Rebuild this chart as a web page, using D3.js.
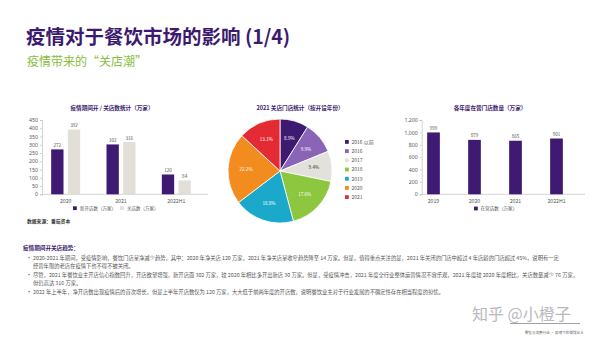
<!DOCTYPE html>
<html>
<head>
<meta charset="utf-8">
<script src="https://cdn.jsdelivr.net/npm/d3@7"></script>
<style>
  body { margin: 0; background: #fff; }
  svg { display: block; font-family: "Noto Sans CJK SC", "Noto Sans", sans-serif; }
</style>
</head>
<body>
<div id="chart"></div>
<script>
// chart 1: opened / closed stores
var years1 = ["2020", "2021", "2022H1"];
var openedCount = [272, 302, 120];
var closedCount = [392, 316, 84];
var ticks1 = [0, 50, 100, 150, 200, 250, 300, 350, 400, 450];

// chart 2: 2021 closed stores by opening year
var pieLabels = ["2016 以前", "2016", "2017", "2018", "2019", "2020", "2021"];
var pieValues = [8.9, 9.9, 9.4, 17.6, 18.8, 22.2, 13.1];
var pieColors = ["#3f1a72", "#8a64b6", "#e3e1dc", "#8dc63f", "#1aa9cb", "#f28c1e", "#e42a32"];

// chart 3: stores in operation
var years3 = ["2019", "2020", "2021", "2022H1"];
var operating = [999, 879, 865, 901];
var ticks3 = [0, 200, 400, 600, 800, 1000, 1200];

var bullets = [
  ["2020-2021 年期间，受疫情影响，餐饮门店呈净减少趋势，其中：2020 年净关店 120 万家，2021 年净关店呈收窄趋势降至 14 万家。但是，值得重点关注的是，2021 年关闭的门店中超过 4 年店龄的门店超过 45%，说明有一定",
   "经营年限的老店在疫情下也不得不被关闭。"],
  ["尽管，2021 年餐饮业主开店信心指数回升，开店欲望增强，新开店面 302 万家，较 2020 年相比多开出新店 30 万家。但是，受疫情冲击，2021 年度全行业整体运营情况不容乐观，2021 年度较 2020 年度相比，关店数量减少 76 万家，",
   "但仍高达 316 万家。"],
  ["2022 年上半年，净开店数出现疫情后的首次增长，但是上半年开店数仅为 120 万家，大大低于前两年度的开店数，说明餐饮业主对于行业发展的不确定性存在相当程度的担忧。"]
];

var purple = "#3f1a72", grey = "#e2dfd8", axisCol = "#b5b5b5", txt = "#555";

var svg = d3.select("#chart").append("svg").attr("width", 600).attr("height", 340);

// headings
svg.append("text").attr("x", 26).attr("y", 44)
  .attr("font-size", 19.5).attr("font-weight", 700).attr("fill", "#3c1a6e")
  .text("疫情对于餐饮市场的影响 (1/4)");
svg.append("text").attr("x", 27).attr("y", 66)
  .attr("font-size", 12).attr("fill", "#86bd3c")
  .text("疫情带来的“关店潮”");

function chartTitle(x, y, s) {
  svg.append("text").attr("x", x).attr("y", y).attr("text-anchor", "middle")
    .attr("font-size", 5.6).attr("font-weight", 700).attr("fill", "#3c1a6e").text(s);
}

function styleAxis(g) {
  g.selectAll("path, line").attr("stroke", axisCol).attr("stroke-width", 0.6);
  g.selectAll("text").attr("fill", txt).attr("font-size", 5.2).attr("font-family", "Noto Sans, sans-serif");
}

// ---------- chart 1 ----------
chartTitle(112, 110, "疫情期间开 / 关店数统计（万家）");
var x1 = d3.scaleBand().domain(years1).range([38, 204]);
var y1 = d3.scaleLinear().domain([0, 450]).range([194.3, 120]);
var inner = d3.scaleBand().domain(["o", "c"]).range([0, 33]).paddingInner(0.26).paddingOuter(0.12);

svg.append("g").attr("transform", "translate(42,0)")
  .call(d3.axisLeft(y1).tickValues(ticks1).tickSize(2).tickPadding(2)).call(styleAxis);
svg.append("line").attr("x1", 42).attr("x2", 208).attr("y1", y1(0)).attr("y2", y1(0))
  .attr("stroke", axisCol).attr("stroke-width", 0.6);

var g1 = svg.append("g");
years1.forEach(function(yr, i) {
  var cx = x1(yr) + x1.bandwidth() / 2 - 16.5;
  [["o", openedCount[i], purple], ["c", closedCount[i], grey]].forEach(function(b) {
    g1.append("rect").attr("x", cx + inner(b[0])).attr("width", inner.bandwidth())
      .attr("y", y1(b[1])).attr("height", y1(0) - y1(b[1])).attr("fill", b[2]);
    g1.append("text").attr("x", cx + inner(b[0]) + inner.bandwidth() / 2).attr("y", y1(b[1]) - 2.5)
      .attr("text-anchor", "middle").attr("font-size", 4.6).attr("fill", txt).text(b[1]);
  });
  g1.append("text").attr("x", x1(yr) + x1.bandwidth() / 2).attr("y", 203)
    .attr("text-anchor", "middle").attr("font-size", 5.2).attr("fill", txt).text(yr);
});
// legend 1
[[73, purple, "新开店数（万家）"], [120, grey, "关店数（万家）"]].forEach(function(l) {
  svg.append("rect").attr("x", l[0]).attr("y", 206.3).attr("width", 3.8).attr("height", 3.8).attr("fill", l[1]);
  svg.append("text").attr("x", l[0] + 7).attr("y", 210).attr("font-size", 4.5).attr("fill", txt).text(l[2]);
});
svg.append("text").attr("x", 27).attr("y", 223).attr("font-size", 4.8).attr("font-weight", 700)
  .attr("fill", "#333").text("数据来源：番茄资本");

// ---------- chart 2: pie ----------
chartTitle(300, 110, "2021 关店门店统计（按开设年份）");
var pie = d3.pie().sort(null).value(function(d) { return d; });
var arc = d3.arc().innerRadius(0).outerRadius(52);
var labArc = d3.arc().innerRadius(34).outerRadius(34);
var pg = svg.append("g").attr("transform", "translate(280,171)");
var arcs = pie(pieValues);
pg.selectAll("path").data(arcs).enter().append("path")
  .attr("d", arc).attr("fill", function(d, i) { return pieColors[i]; })
  .attr("stroke", "#fff").attr("stroke-width", 0.8);
pg.selectAll("text").data(arcs).enter().append("text")
  .attr("transform", function(d) { return "translate(" + labArc.centroid(d) + ")"; })
  .attr("text-anchor", "middle").attr("dy", "0.35em").attr("font-size", 4.6)
  .attr("fill", function(d, i) { return i == 2 ? "#333" : "#fff"; })
  .text(function(d) { return d.data + "%"; });
var leg2 = svg.append("g").attr("transform", "translate(345,140)");
pieLabels.forEach(function(s, i) {
  leg2.append("rect").attr("x", 0).attr("y", i * 9.2).attr("width", 3.8).attr("height", 3.8).attr("fill", pieColors[i]);
  leg2.append("text").attr("x", 6.5).attr("y", i * 9.2 + 3.7).attr("font-size", 5).attr("fill", txt).text(s);
});

// ---------- chart 3 ----------
chartTitle(490, 110, "各年度在营门店数量（万家）");
var x3 = d3.scaleBand().domain(years3).range([413, 577]);
var y3 = d3.scaleLinear().domain([0, 1200]).range([194.3, 120]);
svg.append("g").attr("transform", "translate(421.7,0)")
  .call(d3.axisLeft(y3).tickValues(ticks3).tickSize(2).tickPadding(2).tickFormat(d3.format(","))).call(styleAxis);
svg.append("line").attr("x1", 421.7).attr("x2", 585).attr("y1", y3(0)).attr("y2", y3(0))
  .attr("stroke", axisCol).attr("stroke-width", 0.6);
var bw3 = 12.7;
years3.forEach(function(yr, i) {
  var cx = x3(yr) + x3.bandwidth() / 2;
  svg.append("rect").attr("x", cx - bw3 / 2).attr("width", bw3)
    .attr("y", y3(operating[i])).attr("height", y3(0) - y3(operating[i])).attr("fill", purple);
  svg.append("text").attr("x", cx).attr("y", y3(operating[i]) - 2.5).attr("text-anchor", "middle")
    .attr("font-size", 4.6).attr("fill", txt).text(operating[i]);
  svg.append("text").attr("x", cx).attr("y", 203).attr("text-anchor", "middle")
    .attr("font-size", 5.2).attr("fill", txt).text(yr);
});
svg.append("rect").attr("x", 474).attr("y", 206.6).attr("width", 3.8).attr("height", 3.8).attr("fill", purple);
svg.append("text").attr("x", 480.5).attr("y", 210.3).attr("font-size", 4.6).attr("fill", txt).text("在营店数（万家）");

// ---------- text block ----------
svg.append("text").attr("x", 23).attr("y", 250).attr("font-size", 5.6).attr("font-weight", 700)
  .attr("fill", "#3c1a6e").text("疫情期间开关店趋势：");
var lineY = [[260, 268], [277, 285], [294]];
bullets.forEach(function(b, i) {
  svg.append("text").attr("x", 26).attr("y", lineY[i][0]).attr("font-size", 6).attr("fill", txt).text("•");
  b.forEach(function(line, j) {
    svg.append("text").attr("x", 33).attr("y", lineY[i][j]).attr("font-size", 5.3)
      .attr("fill", txt).text(line);
  });
});

// watermark + footer
svg.append("text").attr("x", 472).attr("y", 320).attr("font-size", 16).attr("fill", "#b9b9bd")
  .text("知乎 @小橙子");
svg.append("line").attr("x1", 510).attr("x2", 580).attr("y1", 323.5).attr("y2", 323.5)
  .attr("stroke", "#8a8594").attr("stroke-width", 0.8);
svg.append("text").attr("x", 583).attr("y", 334).attr("text-anchor", "end").attr("font-size", 3.6)
  .attr("fill", "#666").text("零售与消费行业 · 疫情下的餐饮业   6");
</script>
</body>
</html>
